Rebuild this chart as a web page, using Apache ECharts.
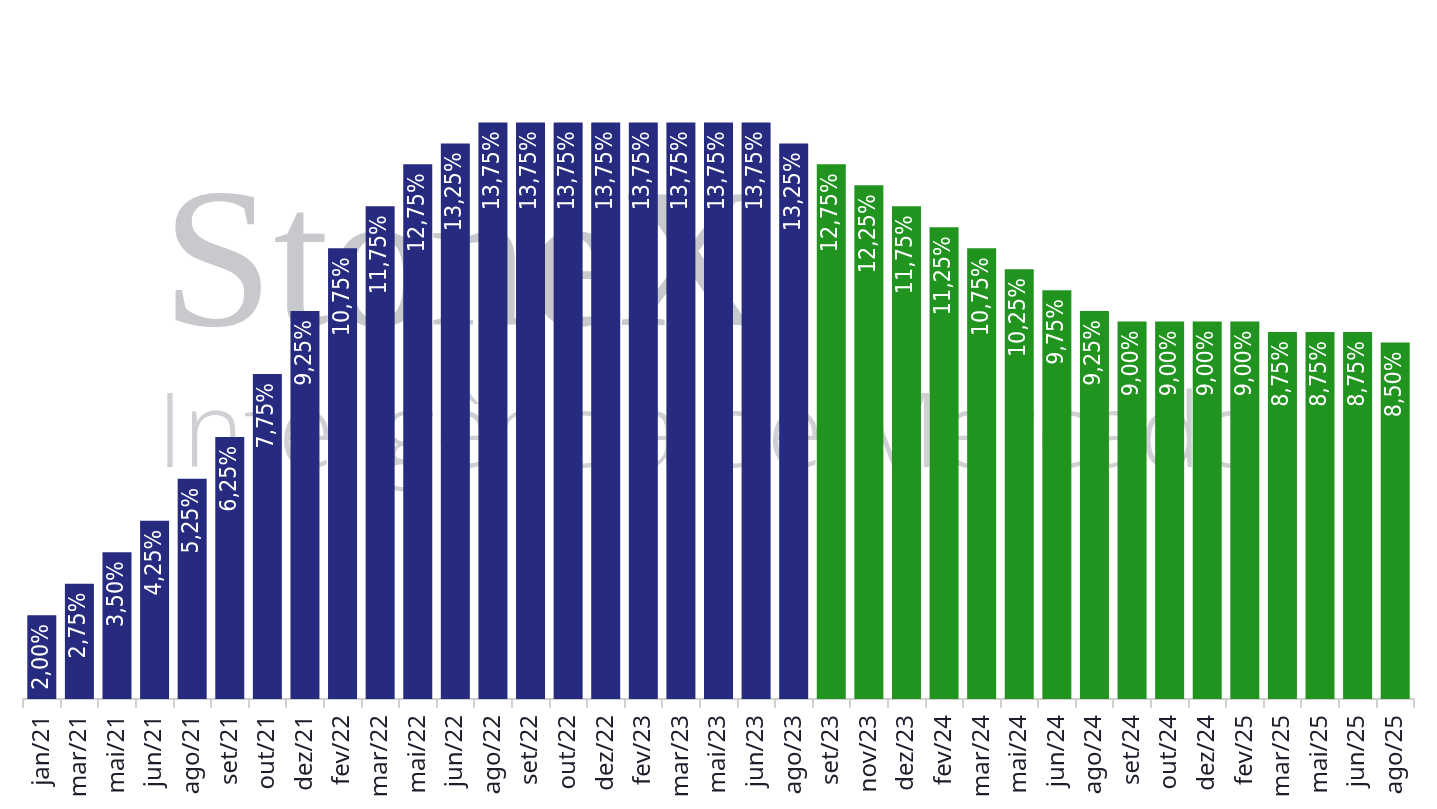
<!DOCTYPE html>
<html>
<head>
<meta charset="utf-8">
<script src="https://cdn.jsdelivr.net/npm/echarts@6/dist/echarts.min.js"></script>
<style>
  html, body { margin: 0; padding: 0; background: #fff; }
  #chart { width: 1437px; height: 809px; }
</style>
</head>
<body>
<div id="chart"></div>
<script>
// Selic path: hiking cycle (blue) then easing (green)
var months = ['jan/21', 'mar/21', 'mai/21', 'jun/21', 'ago/21', 'set/21', 'out/21', 'dez/21',
  'fev/22', 'mar/22', 'mai/22', 'jun/22', 'ago/22', 'set/22', 'out/22', 'dez/22',
  'fev/23', 'mar/23', 'mai/23', 'jun/23', 'ago/23', 'set/23', 'nov/23', 'dez/23',
  'fev/24', 'mar/24', 'mai/24', 'jun/24', 'ago/24', 'set/24', 'out/24', 'dez/24',
  'fev/25', 'mar/25', 'mai/25', 'jun/25', 'ago/25'];
var hikeRates = [2.00, 2.75, 3.50, 4.25, 5.25, 6.25, 7.75, 9.25, 10.75, 11.75, 12.75, 13.25,
  13.75, 13.75, 13.75, 13.75, 13.75, 13.75, 13.75, 13.75, 13.25];
var cutRates = [12.75, 12.25, 11.75, 11.25, 10.75, 10.25, 9.75, 9.25, 9.00, 9.00, 9.00, 9.00,
  8.75, 8.75, 8.75, 8.50];

var BLUE = '#262b80', GREEN = '#20941f';

var data = hikeRates.map(function (v) { return { value: v, itemStyle: { color: BLUE } }; })
  .concat(cutRates.map(function (v) { return { value: v, itemStyle: { color: GREEN } }; }));

var chart = echarts.init(document.getElementById('chart'));
chart.setOption({
  backgroundColor: '#fff',
  animation: false,
  grid: { left: 23, right: 23, top: 70, bottom: 110, containLabel: false },
  // watermark sits behind the bars
  graphic: [
    {
      type: 'text', z: 0, left: 162, top: 172,
      style: { text: 'StoneX', font: '200px "Liberation Serif"', fill: '#c8c9cc' }
    },
    {
      type: 'text', z: 0, left: 157, top: 386,
      style: { text: 'Inteligência de Mercado', font: '300 103px "Open Sans"', fill: '#cfd0d3' }
    }
  ],
  xAxis: {
    type: 'category', data: months,
    axisLine: { lineStyle: { color: '#d0d0d0', width: 2 } },
    axisTick: { show: true, length: 9, lineStyle: { color: '#d0d0d0', width: 2 } },
    axisLabel: {
      rotate: 90, interval: 0, margin: 16,
      color: '#1d1d2b', fontSize: 24, fontFamily: 'Noto Sans'
    }
  },
  yAxis: { type: 'value', min: 0, max: 15, show: false, splitLine: { show: false } },
  series: [{
    type: 'bar', data: data, barWidth: 29, z: 2,
    label: {
      show: true, position: 'insideTop', rotate: 90, distance: 9,
      align: 'right', verticalAlign: 'middle',
      color: '#fff', fontSize: 23, fontFamily: '"DejaVu Sans Condensed", "DejaVu Sans"',
      formatter: function (p) { return p.value.toFixed(2).replace('.', ',') + '%'; }
    }
  }]
});
</script>
</body>
</html>
